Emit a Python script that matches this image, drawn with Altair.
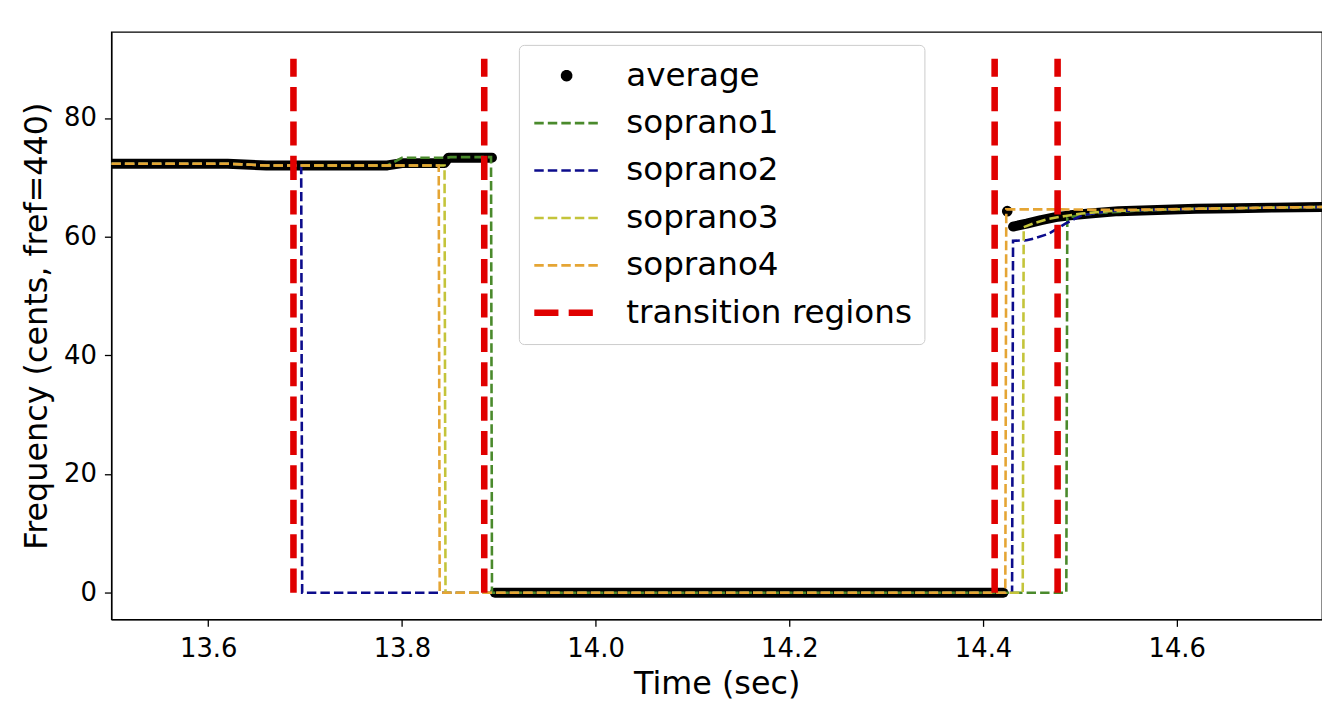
import math
import altair as alt
import pandas as pd

SERIES = ["average", "soprano1", "soprano2", "soprano3", "soprano4", "transition regions"]
COLORS = ["#000000", "#4a8a2c", "#0c0c8c", "#c4c43a", "#e5a534", "#e00000"]
DASHES = [[1, 0], [9.5, 4.1], [9.5, 4.1], [9.5, 4.1], [9.5, 4.1], [24.3, 10.3]]
WIDTHS = [0, 2.6, 2.6, 2.6, 2.6, 6.6]

# average (black dots) - separate segments
AVG_A_T = [13.500, 13.560, 13.620, 13.660, 13.700, 13.785, 13.800, 13.844, 13.848, 13.893]
AVG_A_V = [72.3, 72.3, 72.3, 72.0, 72.0, 72.0, 72.4, 72.4, 73.3, 73.3]
AVG_B_T = [13.896, 14.421]
AVG_B_V = [0.0, 0.0]
AVG_DOT_T = [14.425]
AVG_DOT_V = [64.3]
AVG_D_T = [14.431, 14.445, 14.460, 14.475, 14.490, 14.510, 14.540, 14.580, 14.620, 14.660, 14.700, 14.750]
AVG_D_V = [61.7, 62.2, 62.8, 63.3, 63.6, 63.9, 64.3, 64.5, 64.7, 64.8, 64.9, 65.0]

S1_T = [13.500, 13.620, 13.660, 13.785, 13.800, 13.846, 13.850, 13.892, 13.893, 14.486, 14.487, 14.500, 14.520, 14.560, 14.620, 14.700, 14.750]
S1_V = [72.3, 72.3, 72.0, 72.0, 73.3, 73.3, 73.4, 73.4, 0.0, 0.0, 63.2, 63.6, 64.0, 64.4, 64.7, 64.9, 65.0]

S2_T = [13.500, 13.620, 13.660, 13.696, 13.697, 14.430, 14.431, 14.445, 14.455, 14.468, 14.485, 14.502, 14.530, 14.570, 14.620, 14.700, 14.750]
S2_V = [72.3, 72.3, 72.0, 72.0, 0.0, 0.0, 59.3, 59.4, 59.8, 60.5, 62.2, 63.6, 64.3, 64.5, 64.7, 64.9, 65.0]

S3_T = [13.500, 13.620, 13.660, 13.844, 13.845, 14.441, 14.442, 14.455, 14.468, 14.485, 14.502, 14.530, 14.570, 14.620, 14.700, 14.750]
S3_V = [72.3, 72.3, 72.0, 72.0, 0.0, 0.0, 61.6, 62.4, 63.0, 63.5, 63.9, 64.3, 64.5, 64.7, 64.9, 65.0]

S4_T = [13.500, 13.620, 13.660, 13.838, 13.839, 14.423, 14.424, 14.480, 14.540, 14.620, 14.700, 14.750]
S4_V = [72.3, 72.3, 72.0, 72.0, 0.0, 0.0, 64.6, 64.6, 64.5, 64.7, 64.9, 65.0]

TR_T = [13.688, 13.885, 14.412, 14.477]
TR_LO = [0, 0, 0, 0]
TR_HI = [90, 90, 90, 90]

X_TICKS = [13.6, 13.8, 14.0, 14.2, 14.4, 14.6]
Y_TICKS = [0, 20, 40, 60, 80]


def frame(name, ts, vs, seg):
    return pd.DataFrame({"t": ts, "v": vs, "series": name, "seg": seg,
                         "i": list(range(len(ts)))})


avg_df = pd.concat([frame("average", AVG_A_T, AVG_A_V, "a"),
                    frame("average", AVG_B_T, AVG_B_V, "b"),
                    frame("average", AVG_D_T, AVG_D_V, "d")])
dot_df = frame("average", AVG_DOT_T, AVG_DOT_V, "c")
s_dfs = [frame("soprano1", S1_T, S1_V, "s1"), frame("soprano2", S2_T, S2_V, "s2"),
         frame("soprano3", S3_T, S3_V, "s3"), frame("soprano4", S4_T, S4_V, "s4")]
tr_df = pd.DataFrame({"t": TR_T, "lo": TR_LO, "hi": TR_HI, "series": "transition regions"})

FONT = "DejaVu Sans"

xs = alt.Scale(domain=[13.5, 14.75], nice=False, zero=False)
ys = alt.Scale(domain=[-4.5, 94.5], nice=False, zero=False)
xaxis = alt.Axis(values=X_TICKS, format=".1f", title="Time (sec)", titlePadding=8, labelPadding=9)
yaxis = alt.Axis(values=Y_TICKS, title="Frequency (cents, fref=440)", titlePadding=10, labelPadding=8)

# small filled dot used as the legend symbol of "average" (polygon, unit coords)
_r = 0.18
DOT_PATH = "M" + "L".join(
    f"{_r * math.cos(2 * math.pi * k / 24):.4f},{_r * math.sin(2 * math.pi * k / 24):.4f}"
    for k in range(24)) + "Z"

legend = alt.Legend(
    title=None, orient="none", legendX=410, legendY=13,
    labelFont=FONT, labelFontSize=32.8, labelColor="black", labelLimit=0,
    labelOffset=24, symbolSize=4225, symbolStrokeWidth=2.6,
    symbolType=alt.ExprRef(expr=f"datum.value === 'average' ? '{DOT_PATH}' : 'stroke'"),
    symbolFillColor=alt.ExprRef(expr="datum.value === 'average' ? 'black' : 'transparent'"),
    clipHeight=38, rowPadding=9.7, padding=12, strokeColor="#cccccc", fillColor="white",
    cornerRadius=5,
)

color = alt.Color("series:N", scale=alt.Scale(domain=SERIES, range=COLORS), legend=legend)
dash = alt.StrokeDash("series:N", scale=alt.Scale(type="ordinal", domain=SERIES, range=DASHES), legend=legend)
width = alt.StrokeWidth("series:N", scale=alt.Scale(type="ordinal", domain=SERIES, range=WIDTHS), legend=legend)


def xenc():
    return alt.X("t:Q", scale=xs, axis=xaxis)


def yenc():
    return alt.Y("v:Q", scale=ys, axis=yaxis)


avg_layer = alt.Chart(avg_df).mark_line(strokeWidth=10, strokeCap="round", strokeJoin="round", clip=True).encode(
    x=xenc(), y=yenc(), color=color, detail="seg:N", order="i:Q")

dot_layer = alt.Chart(dot_df).mark_circle(size=115, opacity=1, color="black").encode(x=xenc(), y=yenc())

s_layers = [
    alt.Chart(d).mark_line(clip=True).encode(
        x=xenc(), y=yenc(), color=color, strokeDash=dash, strokeWidth=width,
        detail="seg:N", order="i:Q")
    for d in s_dfs
]

tr_layer = alt.Chart(tr_df).mark_rule().encode(
    x=alt.X("t:Q", scale=xs, axis=xaxis),
    y=alt.Y("lo:Q", scale=ys, axis=yaxis),
    y2="hi:Q",
    color=color, strokeDash=dash, strokeWidth=width,
)

chart = alt.layer(avg_layer, dot_layer, *s_layers, tr_layer).properties(
    width=1218, height=591,
    background="white",
    autosize=alt.AutoSizeParams(type="none"),
    padding={"left": 104, "top": 22, "right": 0, "bottom": 80},
).configure_view(stroke="black", strokeWidth=1.3).configure_axis(
    labelFont=FONT, titleFont=FONT, labelFontSize=26, titleFontSize=32,
    titleFontWeight="normal", labelColor="black", titleColor="black",
    tickColor="black", domainColor="black", tickSize=7, tickWidth=1.3,
    domainWidth=1.3, grid=False,
)

chart.save("out.html", embed_options={"renderer": "svg", "actions": False})
